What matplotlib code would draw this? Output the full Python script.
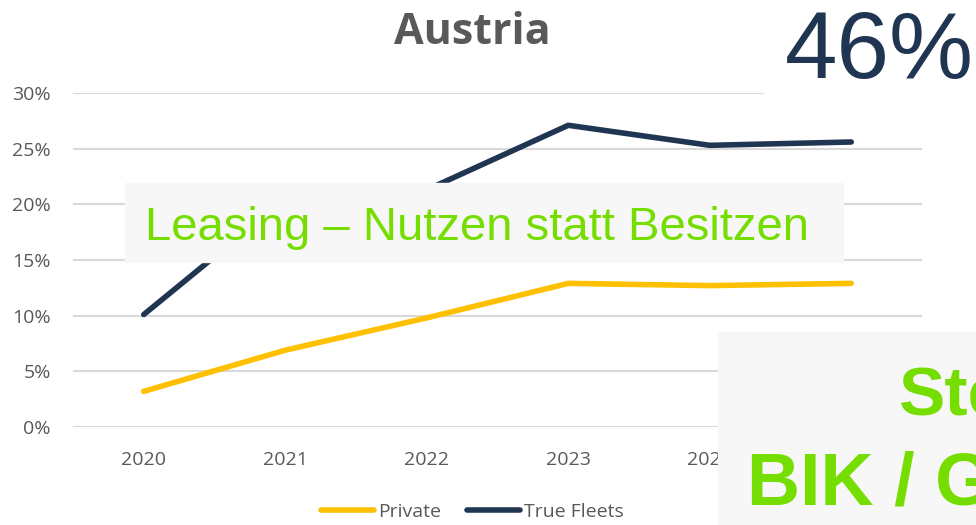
import matplotlib
matplotlib.use('Agg')
import matplotlib.pyplot as plt
from matplotlib.patches import Rectangle
from matplotlib.ticker import PercentFormatter

# data
years = ['2020', '2021', '2022', '2023', '2024', '2025']
private = [3.2, 6.9, 9.8, 12.9, 12.7, 12.9]
true_fleets = [10.1, 20.5, 21.3, 27.1, 25.3, 25.6]
yticks = [0, 5, 10, 15, 20, 25, 30]

title = 'Austria'
big_number = '46%'
banner = 'Leasing \u2013 Nutzen statt Besitzen'
side_lines = ['Ste', 'BIK / G']

gray = '#595959'
green = '#75DE00'
navy = '#1F3552'

plt.rcParams['font.family'] = ['Open Sans', 'DejaVu Sans']

fig = plt.figure(figsize=(9.76, 5.25), dpi=100)
ax = fig.add_axes([73/976, 1-427/525, 849/976, 334/525])

x = range(len(years))
ax.plot(x, private, color='#FFC000', lw=4, solid_capstyle='round', label='Private')
ax.plot(x, true_fleets, color=navy, lw=4, solid_capstyle='round', label='True Fleets')

ax.set_xlim(-0.5, len(years)-0.5)
ax.set_ylim(0, 30)
ax.set_xticks(list(x))
ax.set_xticklabels(years)
ax.set_yticks(yticks)
ax.yaxis.set_major_formatter(PercentFormatter(decimals=0))
ax.tick_params(length=0, labelsize=14, labelcolor=gray)
ax.tick_params(axis='x', pad=17)
ax.tick_params(axis='y', pad=16)
ax.grid(axis='y', color='#D9D9D9', lw=1.5)
ax.set_axisbelow(True)
for s in ax.spines.values():
    s.set_visible(False)

fig.text(472/976, 1-44/525, title, ha='center', va='baseline', fontsize=31,
         fontweight='bold', color=gray)

leg = fig.legend(loc='center', bbox_to_anchor=(0.484, 0.025), ncol=2, frameon=False,
                 fontsize=14, handlelength=2.75, handletextpad=0.2, columnspacing=1.3)
for t in leg.get_texts():
    t.set_color(gray)

# overlay boxes
fig.add_artist(Rectangle((764/976, 1-105/525), 212/976, 105/525,
                         transform=fig.transFigure, color='white', zorder=5))
fig.text(785/976, 1-78/525, big_number, fontsize=68, color=navy, va='baseline',
         family='Liberation Sans', zorder=6)

fig.add_artist(Rectangle((125/976, 1-262/525), 718/976, 79/525,
                         transform=fig.transFigure, color='#F7F7F7', zorder=5))
fig.text(145/976, 1-240/525, banner, fontsize=34, color=green, va='baseline',
         family='Liberation Sans', zorder=6)

fig.add_artist(Rectangle((718/976, 0), 258/976, 193/525,
                         transform=fig.transFigure, color='#F7F7F7', zorder=5))
fig.text(899/976, 1-415/525, side_lines[0], fontsize=50, color=green, va='baseline',
         family='Liberation Sans', fontweight='bold', zorder=6)
fig.text(747/976, 1-505/525, side_lines[1], fontsize=53, color=green, va='baseline',
         family='Liberation Sans', fontweight='bold', zorder=6)

fig.savefig('out.png', dpi=100)
